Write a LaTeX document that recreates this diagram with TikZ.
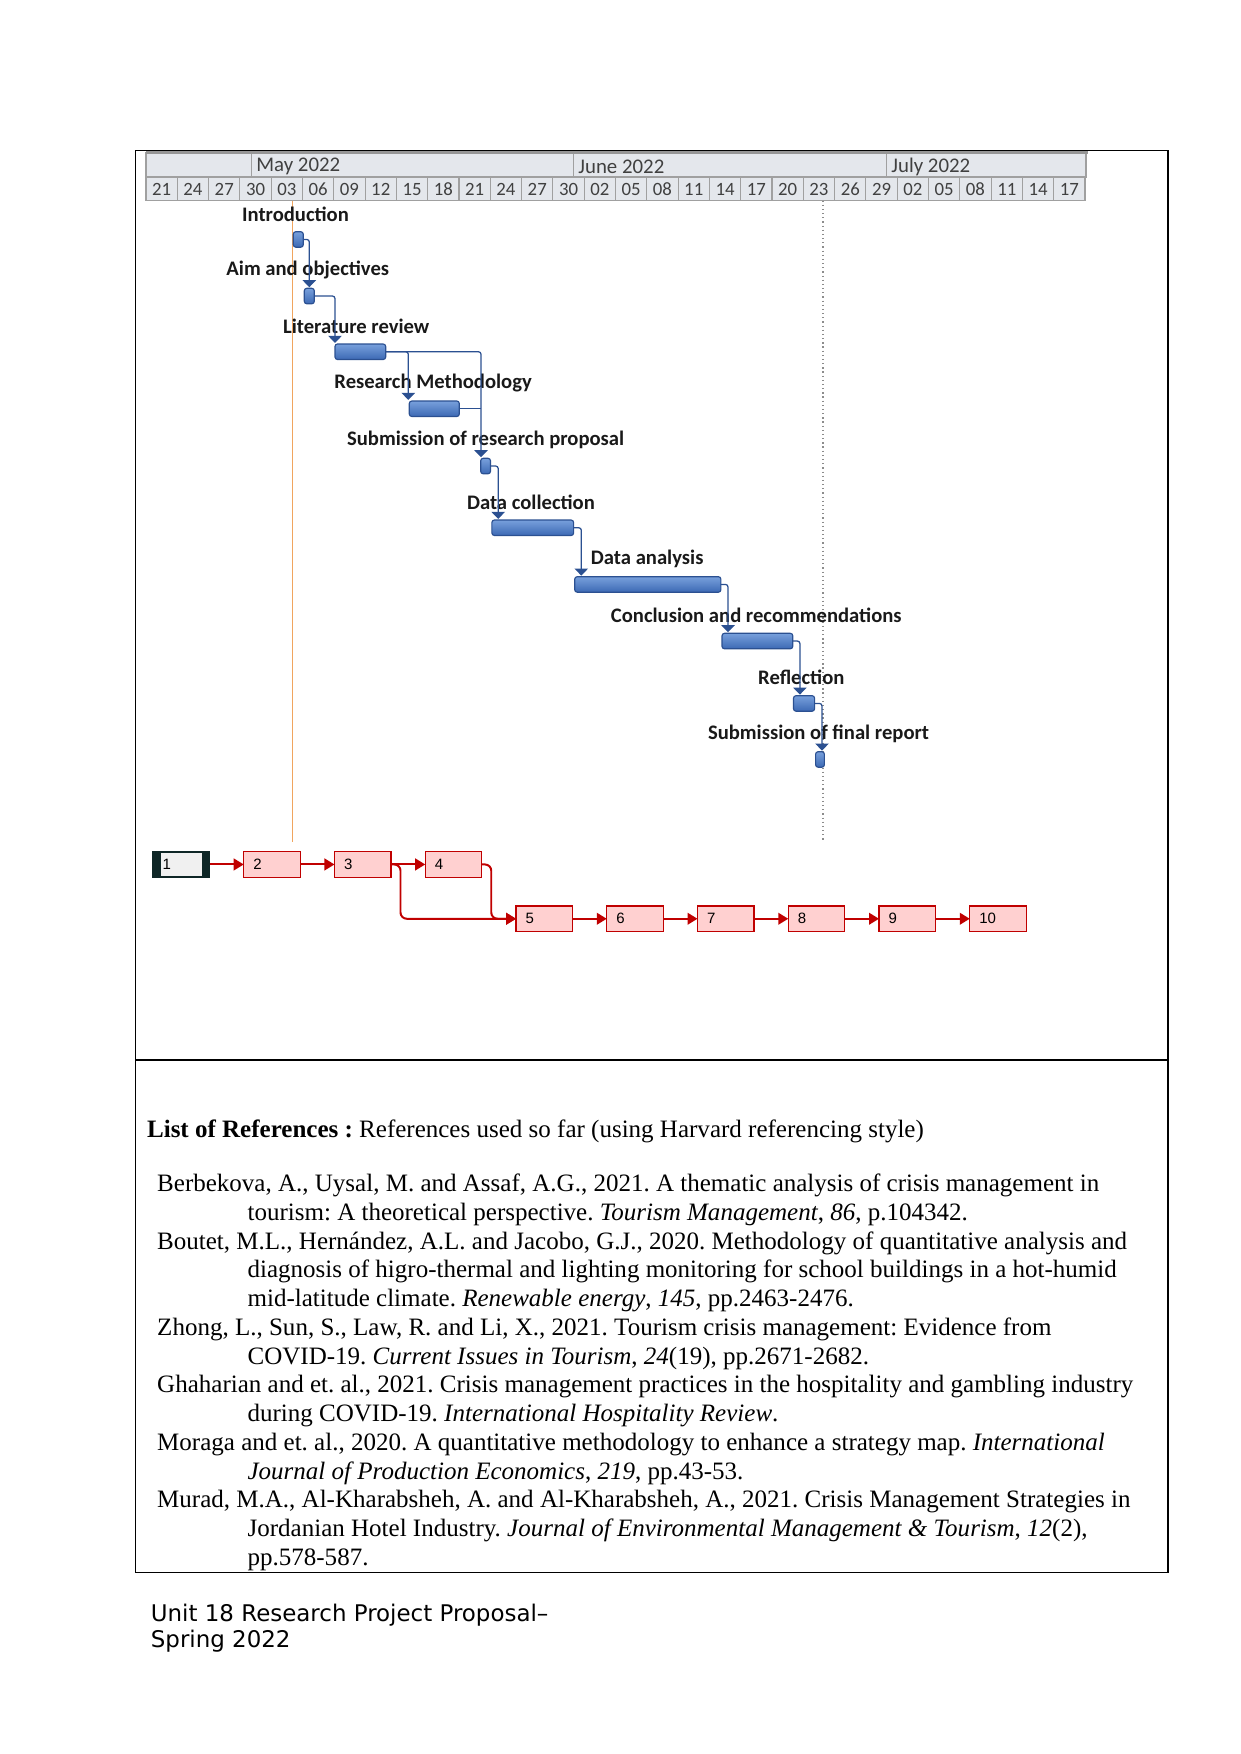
\documentclass[tikz,border=0pt]{standalone}
\usepackage{fontspec}
\setmainfont{Liberation Serif}
\newfontfamily\calibri{Carlito}
\newfontfamily\dejavu{DejaVu Sans}
\newfontfamily\tahoma{Liberation Sans}
\usetikzlibrary{arrows.meta,calc}
\newdimen\pxu \pxu=0.4797pt
\definecolor{gblue}{RGB}{43,80,145}
\definecolor{gbartop}{RGB}{120,160,220}
\definecolor{gbarbot}{RGB}{60,105,180}
\definecolor{hdrbg}{RGB}{228,231,236}
\definecolor{hdrln}{RGB}{160,160,160}
\definecolor{hdrtx}{RGB}{64,64,64}
\definecolor{todayc}{RGB}{240,165,95}
\definecolor{netred}{RGB}{192,0,0}
\definecolor{netpink}{RGB}{255,208,208}
\definecolor{netdark}{RGB}{14,38,38}
\definecolor{netinner}{RGB}{240,240,240}
\frenchspacing
\begin{document}
\begin{tikzpicture}[x=0.4797pt,y=-0.4797pt,
  hdrcell/.style={draw=hdrln, fill=hdrbg, line width=0.5pt},
  hdrtxt/.style={font=\calibri\fontsize{9}{10}\selectfont, text=hdrtx, inner sep=0},
  montxt/.style={font=\calibri\fontsize{10}{11}\selectfont, text=hdrtx, inner sep=0, anchor=west},
  glabel/.style={font=\calibri\bfseries\fontsize{9.9}{11}\selectfont, inner sep=0, anchor=west, text={rgb,255:red,25;green,25;blue,25}},
  gbar/.style={draw=gblue, top color=gbartop, bottom color=gbarbot, rounded corners=1.2pt, inner sep=0, outer sep=0, anchor=north west, line width=0.55pt, minimum height=15.5\pxu},
  gconn/.style={draw=gblue, line width=0.6pt, rounded corners=1.2pt, -{Triangle[width=6.4pt,length=3.4pt]}, shorten >=0.5pt},
  gline/.style={draw=gblue, line width=0.6pt},
  nbox/.style={draw=netred, fill=netpink, line width=0.6pt, minimum width=56.5\pxu, minimum height=25.5\pxu, inner xsep=4.6pt, inner ysep=0pt, text width=17.9pt, align=left, font=\tahoma\fontsize{7.2}{8}\selectfont, anchor=north west, outer sep=0pt},
  nconn/.style={draw=netred, line width=0.95pt, rounded corners=3pt, -{Triangle[width=5.6pt,length=4.8pt]}},
  reftxt/.style={inner sep=0, anchor=base west, font=\fontsize{12}{14}\selectfont},
  foot/.style={inner sep=0, anchor=base west, font=\dejavu\fontsize{11}{13}\selectfont}
]
\useasboundingbox (0,0) rectangle (1241,1754);

% outer frame
\draw[line width=0.7pt] (135.4,150.5) rectangle (1168,1572.3);
\draw[line width=0.7pt] (135.4,1059.8) -- (1168,1059.8);

% Gantt header
\draw[hdrcell] (146,152.5) rectangle (251.7,177);
\draw[hdrcell] (251.7,152.5) rectangle (573.9,177);
\draw[hdrcell] (573.9,152.5) rectangle (886.9,177);
\draw[hdrcell] (886.9,152.5) rectangle (1086,177);
\draw[line width=1.1pt, draw={rgb,255:red,150;green,150;blue,150}] (146,152.5) -- (1088,152.5);
\node[montxt] (may) at (256,166.5) {May 2022};
\node[montxt] (jun) at (578,166.5) {June 2022};
\node[montxt] (jul) at (891,166.5) {July 2022};
\foreach \d [count=\i from 0] in {21,24,27,30,03,06,09,12,15,18,21,24,27,30,02,05,08,11,14,17,20,23,26,29,02,05,08,11,14,17} {
  \draw[hdrcell] ({146+\i*31.3},177) rectangle ({146+(\i+1)*31.3},200.5);
  \node[hdrtxt] (day\i) at ({146+(\i+0.5)*31.3},189.5) {\d};
}

% today line and status line
\draw[todayc, line width=0.75pt] (292.3,200.5) -- (292.3,841.5);
\draw[draw={rgb,255:red,140;green,140;blue,140}, line width=0.6pt, dash pattern=on 0.6pt off 1.4pt] (823,200.5) -- (823,841.5);

% task labels
\node[glabel] (lintro) at (241.7,214) {Introduction};
\node[glabel] (laim) at (226,270.3) {Aim and objectives};
\node[glabel] (llit) at (282.7,326.7) {Literature review};
\node[glabel] (lrm) at (334,382.7) {Research Methodology};
\node[glabel] (lprop) at (346.7,439.5) {Submission of research proposal};
\node[glabel] (ldc) at (466.6,502.3) {Data collection};
\node[glabel] (lda) at (590.5,559) {Data analysis};
\node[glabel] (lcr) at (610.5,615) {Conclusion and recommendations};
\node[glabel] (lrefl) at (757.8,677.7) {Reflection};
\node[glabel] (lfin) at (707.6,734) {Submission of final report};

% bars
\node[gbar, minimum width=10\pxu] (b1) at (293.3,231.7) {};
\node[gbar, minimum width=10\pxu] (b2) at (304.3,288.3) {};
\node[gbar, minimum width=50.7\pxu] (b3) at (335,344) {};
\node[gbar, minimum width=50\pxu] (b4) at (409.3,401) {};
\node[gbar, minimum width=9.8\pxu] (b5) at (480.7,458.3) {};
\node[gbar, minimum width=81.7\pxu] (b6) at (491.9,520) {};
\node[gbar, minimum width=146.2\pxu] (b7) at (574.7,576.7) {};
\node[gbar, minimum width=70.8\pxu] (b8) at (722,633.3) {};
\node[gbar, minimum width=21.1\pxu] (b9) at (793.5,695.7) {};
\node[gbar, minimum width=8.8\pxu] (b10) at (815.6,751.7) {};

% gantt links
\draw[gconn] (b1.east) -| ($(b2.north west)+(5,0)$);
\draw[gconn] (b2.east) -| (b3.north west);
\draw[gconn] (b3.east) -| ($(b4.north west)+(-1,0)$);
\draw[gconn] (b3.east) -| ($(b5.north west)+(0.3,0)$);
\draw[gline] (b4.east) -- (b4.east -| b5.north west);
\draw[gconn] (b5.east) -| ($(b6.north west)+(6.3,0)$);
\draw[gconn] (b6.east) -| ($(b7.north west)+(6.6,0)$);
\draw[gconn] (b7.east) -| ($(b8.north west)+(6,0)$);
\draw[gconn] (b8.east) -| ($(b9.north west)+(6.4,0)$);
\draw[gconn] (b9.east) -| ($(b10.north west)+(6.4,0)$);

% network diagram
\node[nbox, draw=netdark, fill=netdark, path picture={\fill[netinner] ($(path picture bounding box.south west)+(7.5,-1.3)$) rectangle ($(path picture bounding box.north east)+(-7.5,1.3)$);}, inner xsep=3.4pt] (n1) at (153,851.7) {1};
\node[nbox] (n2) at (243.75,851.7) {2};
\node[nbox] (n3) at (334.5,851.7) {3};
\node[nbox] (n4) at (425.25,851.7) {4};
\node[nbox] (n5) at (516,906) {5};
\node[nbox] (n6) at (606.75,906) {6};
\node[nbox] (n7) at (697.5,906) {7};
\node[nbox] (n8) at (788.25,906) {8};
\node[nbox] (n9) at (879,906) {9};
\node[nbox] (n10) at (969.75,906) {10};

\draw[nconn] (n1.east) -- (n2.west);
\draw[nconn] (n2.east) -- (n3.west);
\draw[nconn] (n3.east) -- (n4.west);
\draw[nconn] (n3.east) -- ($(n3.east)+(9.5,0)$) |- (n5.west);
\draw[nconn] (n4.east) -- ($(n4.east)+(9.5,0)$) |- (n5.west);
\draw[nconn] (n5.east) -- (n6.west);
\draw[nconn] (n6.east) -- (n7.west);
\draw[nconn] (n7.east) -- (n8.west);
\draw[nconn] (n8.east) -- (n9.west);
\draw[nconn] (n9.east) -- (n10.west);

% references
\node[reftxt] (rh) at (146.7,1137.5) {\textbf{List of References :} References used so far (using Harvard referencing style)};
\node[reftxt] (r0) at (156.8,1191.7) {Berbekova, A., Uysal, M. and Assaf, A.G., 2021. A thematic analysis of crisis management in};
\node[reftxt] (r1) at (247.2,1220.45) {tourism: A theoretical perspective. \textit{Tourism Management}, \textit{86}, p.104342.};
\node[reftxt] (r2) at (156.8,1249.2) {Boutet, M.L., Hernández, A.L. and Jacobo, G.J., 2020. Methodology of quantitative analysis and};
\node[reftxt] (r3) at (247.2,1277.95) {diagnosis of higro-thermal and lighting monitoring for school buildings in a hot-humid};
\node[reftxt] (r4) at (247.2,1306.7) {mid-latitude climate. \textit{Renewable energy}, \textit{145}, pp.2463-2476.};
\node[reftxt] (r5) at (156.8,1335.45) {Zhong, L., Sun, S., Law, R. and Li, X., 2021. Tourism crisis management: Evidence from};
\node[reftxt] (r6) at (247.2,1364.2) {COVID-19. \textit{Current Issues in Tourism}, \textit{24}(19), pp.2671-2682.};
\node[reftxt] (r7) at (156.8,1392.95) {Ghaharian and et. al., 2021. Crisis management practices in the hospitality and gambling industry};
\node[reftxt] (r8) at (247.2,1421.7) {during COVID-19. \textit{International Hospitality Review}.};
\node[reftxt] (r9) at (156.8,1450.45) {Moraga and et. al., 2020. A quantitative methodology to enhance a strategy map. \textit{International}};
\node[reftxt] (r10) at (247.2,1479.2) {\textit{Journal of Production Economics}, \textit{219}, pp.43-53.};
\node[reftxt] (r11) at (156.8,1507.95) {Murad, M.A., Al-Kharabsheh, A. and Al-Kharabsheh, A., 2021. Crisis Management Strategies in};
\node[reftxt] (r12) at (247.2,1536.7) {Jordanian Hotel Industry. \textit{Journal of Environmental Management \& Tourism}, \textit{12}(2),};
\node[reftxt] (r13) at (247.2,1565.45) {pp.578-587.};

% footer
\node[foot] (f1) at (150.5,1621.7) {Unit 18 Research Project Proposal–};
\node[foot] (f2) at (150.5,1647.5) {Spring 2022};
\end{tikzpicture}
\end{document}
